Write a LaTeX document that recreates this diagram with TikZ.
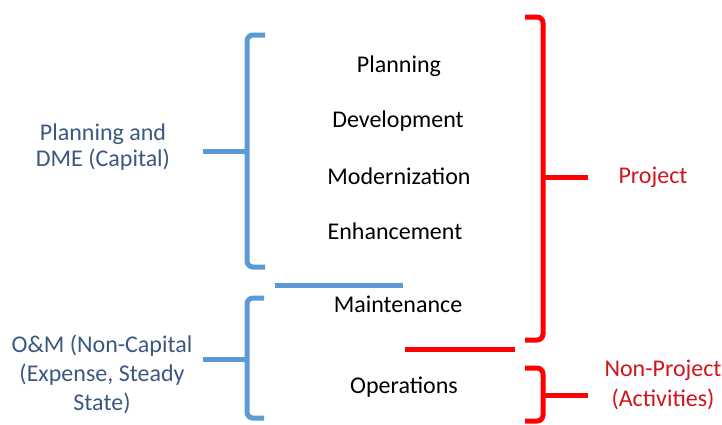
\documentclass[tikz,border=0pt]{standalone}
\usepackage{fontspec}
\setmainfont{Carlito}
\usetikzlibrary{positioning}
\definecolor{bracketblue}{RGB}{91,155,213}
\definecolor{labelblue}{RGB}{59,88,128}
\definecolor{labelred}{RGB}{208,20,30}

\begin{document}
\begin{tikzpicture}[x=0.5pt,y=-0.5pt,
            item/.style={font=\fontsize{12}{14}\selectfont,text=black,inner sep=0pt},
            group/.style={font=\fontsize{12}{14.5}\selectfont,align=center,inner sep=0pt},
            bluebrace/.style={draw=bracketblue,line width=2.5pt,rounded corners=3pt},
            redbrace/.style={draw=red,line width=2.5pt,rounded corners=3pt}]

            \useasboundingbox (0,0) rectangle (722,424);

            % activities in the middle
            \node[item] (plan) at (399,66) {Planning};
            \node[item] (dev) at (398,121) {Development};
            \node[item] (mod) at (399,176) {Modernization};
            \node[item] (enh) at (395,231) {Enhancement};
            \node[item] (maint) at (398,304) {Maintenance};
            \node[item] (ops) at (404,387) {Operations};

            % groups on the left and right
            \node[group,text=labelblue,font=\fontsize{12}{13}\selectfont] (capital) at (103,147) {Planning and\\DME (Capital)};
            \node[group,text=labelblue] (om) at (102,374) {O\&M (Non-Capital\\(Expense, Steady\\State)};
            \node[group,text=labelred] (project) at (653,177) {Project};
            \node[group,text=labelred,font=\fontsize{12}{15}\selectfont] (nonproject) at (663,385) {Non-Project\\(Activities)};

            % blue braces
            \draw[bluebrace] (265,35) -- (247,35) -- (247,267) -- (265,267);
            \draw[bluebrace] (203,151) -- (247,151);
            \draw[bluebrace] (275,285) -- (403,285);
            \draw[bluebrace] (264,298) -- (247,298) -- (247,418) -- (264,418);
            \draw[bluebrace] (203,359) -- (247,359);

            % red braces
            \draw[redbrace] (525,17) -- (543,17) -- (543,340) -- (525,340);
            \draw[redbrace] (543,177) -- (588,177);
            \draw[redbrace] (405,349) -- (515,349);
            \draw[redbrace] (525,368) -- (543,368) -- (543,421) -- (525,421);
            \draw[redbrace] (543,395) -- (588,395);
         \end{tikzpicture}
\end{document}
